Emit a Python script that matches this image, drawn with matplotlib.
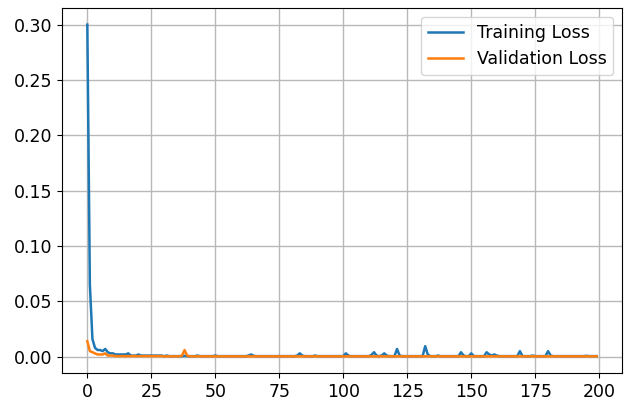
import matplotlib.pyplot as plt

# loss per epoch
train_loss = [
    0.300, 0.065, 0.016, 0.008, 0.006, 0.006, 0.005, 0.007, 0.004, 0.003,
    0.003, 0.002, 0.002, 0.002, 0.002, 0.002, 0.003, 0.001, 0.001, 0.001,
    0.002, 0.001, 0.001, 0.001, 0.001, 0.001, 0.001, 0.001, 0.001, 0.001,
    0.0005, 0.001, 0.0005, 0.0005, 0.0005, 0.0005, 0.0005, 0.0005, 0.0008, 0.0005,
    0.0005, 0.0005, 0.0005, 0.001, 0.0005, 0.0005, 0.0005, 0.0005, 0.0005, 0.0005,
    0.001, 0.0005, 0.0005, 0.0005, 0.0005, 0.0005, 0.0005, 0.0005, 0.0005, 0.0005,
    0.0005, 0.0005, 0.0005, 0.001, 0.002, 0.0008, 0.0005, 0.0005, 0.0005, 0.0005,
    0.0005, 0.0005, 0.0005, 0.0005, 0.0005, 0.0005, 0.0005, 0.0005, 0.0005, 0.0005,
    0.0005, 0.0005, 0.001, 0.003, 0.001, 0.0005, 0.0005, 0.0005, 0.0005, 0.001,
    0.0005, 0.0005, 0.0005, 0.0005, 0.0005, 0.0005, 0.0005, 0.0005, 0.0005, 0.0005,
    0.0005, 0.003, 0.001, 0.0005, 0.0005, 0.0005, 0.0005, 0.0005, 0.0005, 0.0005,
    0.0005, 0.0015, 0.004, 0.001, 0.0005, 0.001, 0.003, 0.001, 0.0005, 0.0005,
    0.0005, 0.007, 0.001, 0.0005, 0.0005, 0.0005, 0.0005, 0.0005, 0.0005, 0.0005,
    0.0005, 0.0005, 0.0095, 0.002, 0.0005, 0.0005, 0.0005, 0.001, 0.0005, 0.0005,
    0.0005, 0.0005, 0.0005, 0.0005, 0.0005, 0.0005, 0.004, 0.001, 0.0005, 0.0005,
    0.003, 0.0005, 0.0005, 0.0005, 0.0005, 0.0005, 0.004, 0.002, 0.001, 0.002,
    0.001, 0.0005, 0.0005, 0.0005, 0.0005, 0.0005, 0.0005, 0.0005, 0.0005, 0.005,
    0.0005, 0.0005, 0.0005, 0.0005, 0.001, 0.0005, 0.0005, 0.0005, 0.0005, 0.0005,
    0.005, 0.001, 0.0005, 0.0005, 0.0005, 0.0005, 0.0005, 0.0005, 0.0005, 0.0005,
    0.0005, 0.0005, 0.0005, 0.0005, 0.0005, 0.0008, 0.0005, 0.0005, 0.0005, 0.0005,
]
val_loss = [
    0.014, 0.005, 0.004, 0.003, 0.002, 0.002, 0.002, 0.003, 0.001, 0.001,
    0.001, 0.0005, 0.0005, 0.0005, 0.0005, 0.0005, 0.0005, 0.0005, 0.0005, 0.0005,
    0.0005, 0.0005, 0.0005, 0.0005, 0.0005, 0.0005, 0.0005, 0.0005, 0.0005, 0.0005,
    0.0003, 0.0003, 0.0003, 0.0003, 0.0003, 0.0003, 0.0003, 0.001, 0.006, 0.001,
] + [0.0003] * 160
epochs = list(range(len(train_loss)))

plt.rcParams['font.size'] = 12.5
fig, ax = plt.subplots(figsize=(6.31, 4.01), dpi=100)
fig.subplots_adjust(left=0.098, right=0.986, top=0.98, bottom=0.07)

ax.plot(epochs, train_loss, lw=1.8, label='Training Loss')
ax.plot(epochs, val_loss, lw=1.8, label='Validation Loss')
ax.grid(color='#b8b8b8', lw=1.0)
ax.legend()

fig.savefig('out.png')
